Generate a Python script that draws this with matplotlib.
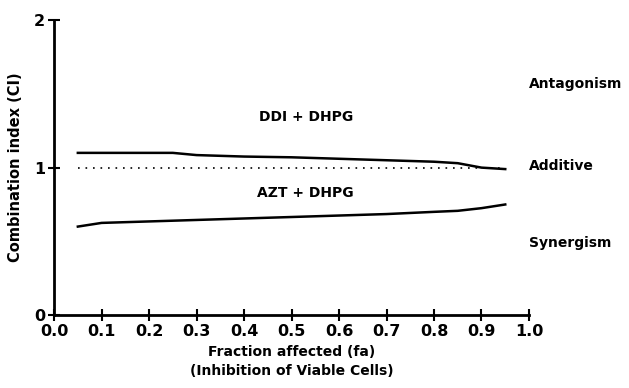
import matplotlib
matplotlib.use('Agg')
from matplotlib import pyplot as plt

# fraction affected values
fa = [0.05, 0.1, 0.2, 0.25, 0.3, 0.4, 0.5, 0.6, 0.7, 0.8, 0.85, 0.9, 0.95]
# combination index, DDI + DHPG
ci_ddi = [1.10, 1.10, 1.10, 1.10, 1.085, 1.075, 1.07, 1.06, 1.05, 1.04, 1.03, 1.0, 0.99]
# combination index, AZT + DHPG
ci_azt = [0.60, 0.625, 0.635, 0.64, 0.645, 0.655, 0.665, 0.675, 0.685, 0.70, 0.707, 0.725, 0.75]

x_ticks = [0.0, 0.1, 0.2, 0.3, 0.4, 0.5, 0.6, 0.7, 0.8, 0.9, 1.0]
y_ticks = [0, 1, 2]
regions = ['Antagonism', 'Additive', 'Synergism']
region_y = [1.57, 1.01, 0.49]

plt.rcParams['font.family'] = 'DejaVu Sans'
plt.rcParams['font.weight'] = 'bold'

fig = plt.figure(figsize=(6.29, 3.88), dpi=100)
ax = fig.add_axes([0.086, 0.188, 0.755, 0.760])

ax.plot(fa, ci_ddi, color='black', lw=1.8)
ax.plot(fa, ci_azt, color='black', lw=1.8)
ax.plot([fa[0], fa[-1]], [1, 1], color='black', lw=1.2, ls=(0, (1, 3.5)))

ax.text(0.53, 1.34, 'DDI + DHPG', ha='center', va='center', fontsize=10, fontweight='bold')
ax.text(0.53, 0.83, 'AZT + DHPG', ha='center', va='center', fontsize=10, fontweight='bold')
for lab, yy in zip(regions, region_y):
    ax.text(1.0, yy, lab, ha='left', va='center', fontsize=10, fontweight='bold', clip_on=False)

ax.set_xlim(0, 1.0)
ax.set_ylim(0, 2)
ax.set_xticks(x_ticks)
ax.set_xticklabels(['%.1f' % t for t in x_ticks])
ax.set_yticks(y_ticks)
ax.tick_params(direction='inout', length=9, width=1.5, labelsize=11.5, pad=2)
for lab in ax.get_xticklabels() + ax.get_yticklabels():
    lab.set_fontweight('bold')
for s in ['top', 'right']:
    ax.spines[s].set_visible(False)
for s in ['left', 'bottom']:
    ax.spines[s].set_linewidth(2)

ax.set_xlabel('Fraction affected (fa)\n(Inhibition of Viable Cells)', fontsize=10,
              fontweight='bold', linespacing=1.5, labelpad=4)
ax.set_ylabel('Combination index (CI)', fontsize=10.5, fontweight='bold', labelpad=8)

fig.savefig('out.png', dpi=100)
